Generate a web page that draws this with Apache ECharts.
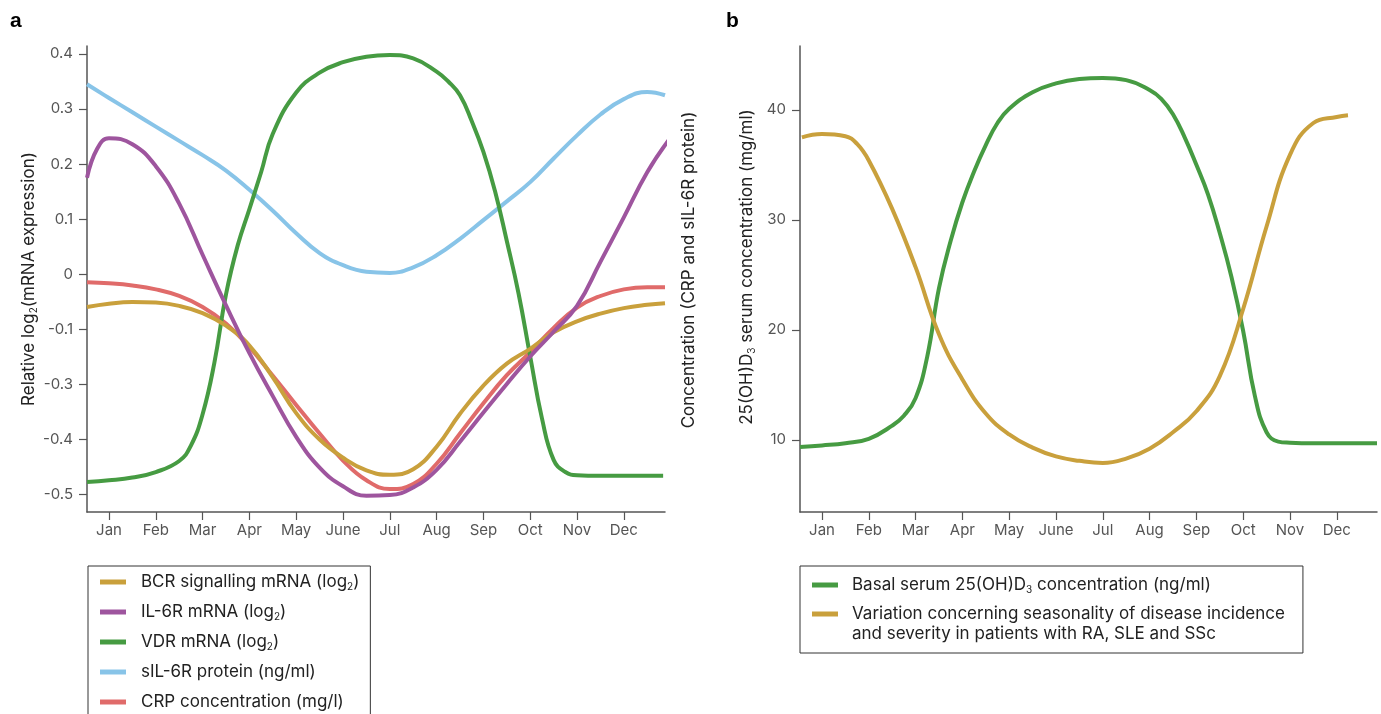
<!DOCTYPE html>
<html><head><meta charset="utf-8">
<script src="https://cdn.jsdelivr.net/npm/echarts@6/dist/echarts.min.js"></script>
<style>html,body{margin:0;padding:0;background:#fff}#c{width:1381px;height:714px}</style>
</head><body><div id="c"></div>
<script>
// ---- axis ticks / labels ----
const monthTicks = [1,2,3,4,5,6,7,8,9,10,11,12];
const monthLabels = ['Jan','Feb','Mar','Apr','May','June','Jul','Aug','Sep','Oct','Nov','Dec'];
const leftYTicks = [0.4,0.3,0.2,0.1,0,-0.1,-0.2,-0.3,-0.4];
const leftYLabels = ['0.4','0.3','0.2','0.1','0','-0.1','-0.3','-0.4','-0.5'];
const rightYTicks = [10,20,30,40];

// ---- panel a series (x in months, y in axis units) ----
const halfX = [0.53,1,1.5,2,2.5,3,3.5,4,4.5,5,5.5,6,6.5,7,7.5,8,8.5,9,9.5,10,10.5,11,11.5,12,12.5,12.88];
const bcrY  = [-0.060,-0.054,-0.051,-0.052,-0.058,-0.071,-0.094,-0.130,-0.188,-0.253,-0.301,-0.334,-0.357,-0.365,-0.355,-0.314,-0.254,-0.203,-0.163,-0.136,-0.106,-0.086,-0.072,-0.062,-0.056,-0.053];
const crpY  = [-0.015,-0.017,-0.021,-0.028,-0.040,-0.060,-0.090,-0.133,-0.185,-0.238,-0.290,-0.339,-0.375,-0.391,-0.382,-0.345,-0.290,-0.235,-0.184,-0.142,-0.098,-0.061,-0.040,-0.028,-0.024,-0.024];
const sil6rY = [0.345,0.320,0.294,0.268,0.242,0.216,0.188,0.153,0.115,0.074,0.038,0.016,0.004,0.002,0.012,0.034,0.064,0.098,0.132,0.167,0.210,0.252,0.290,0.318,0.331,0.325];

const il6rX = [0.53,0.75,1,1.5,2,2.5,3,3.5,4,4.5,5,5.5,6,6.5,7,7.5,8,8.5,9,9.5,10,10.5,11,11.5,12,12.5,12.99];
const il6rY = [0.175,0.228,0.247,0.236,0.196,0.128,0.035,-0.057,-0.144,-0.222,-0.296,-0.352,-0.386,-0.403,-0.402,-0.388,-0.356,-0.305,-0.252,-0.200,-0.150,-0.105,-0.058,0.022,0.103,0.185,0.247];

const vdrX = [0.53,1,1.5,2,2.5,2.75,3,3.25,3.5,3.75,4,4.25,4.5,5,5.5,6,6.5,7,7.5,8,8.25,8.5,8.75,9,9.25,9.5,9.75,10,10.25,10.5,10.75,11,11.5,12,12.5,12.84];
const vdrY = [-0.378,-0.375,-0.370,-0.360,-0.340,-0.312,-0.255,-0.162,-0.037,0.052,0.118,0.185,0.255,0.330,0.366,0.385,0.395,0.398,0.392,0.368,0.350,0.325,0.278,0.222,0.150,0.060,-0.035,-0.150,-0.262,-0.338,-0.360,-0.366,-0.367,-0.367,-0.367,-0.367];

// ---- panel b series ----
const basalX = [0.53,1,1.5,2,2.5,2.75,3,3.25,3.5,3.75,4,4.25,4.5,4.75,5,5.5,6,6.5,7,7.5,8,8.25,8.5,8.75,9,9.25,9.5,9.75,10,10.25,10.5,10.75,11,11.5,12,12.5,12.86];
const basalY = [9.36,9.5,9.7,10.1,11.3,12.2,13.8,17.6,23.8,28.1,31.6,34.4,36.8,38.8,40.1,41.6,42.4,42.8,42.9,42.7,41.8,41.0,39.6,37.5,35.0,32.3,28.8,24.8,19.9,14.0,10.7,9.85,9.75,9.7,9.7,9.7,9.7];

const seasonX = [0.57,1,1.5,1.75,2,2.5,3,3.5,4,4.5,5,5.5,6,6.5,7,7.5,8,8.5,9,9.5,10,10.5,11,11.5,12,12.24];
const seasonY = [37.5,37.8,37.6,36.9,35.4,31.0,25.7,19.6,15.5,12.4,10.5,9.3,8.5,8.1,7.9,8.3,9.2,10.7,12.6,15.8,21.9,29.4,35.9,38.8,39.35,39.5];

const leftNames = ['BCR signalling mRNA (log2)','IL-6R mRNA (log2)','VDR mRNA (log2)','sIL-6R protein (ng/ml)','CRP concentration (mg/l)'];
const rightNames = ['Basal serum 25(OH)D3 concentration (ng/ml)','Variation concerning seasonality of disease incidence\nand severity in patients with RA, SLE and SSc'];
const colors = {gold:'#C9A03C', purple:'#9E559E', green:'#469B42', blue:'#88C4E8', red:'#E06B6A'};

const pairs = (xs, ys) => xs.map((x, i) => [x, ys[i]]);
const FONT = 'Inter';
const subRich = { sub: { fontSize: 10, lineHeight: 10, verticalAlign: 'bottom', fontFamily: FONT } };
const fmtName = n => n.replace('log2', 'log{sub|2}').replace('D3', 'D{sub|3}');

function line(name, xs, ys, color, xi, yi) {
  return { type: 'line', name, data: pairs(xs, ys), xAxisIndex: xi, yAxisIndex: yi,
    smooth: 0.45, showSymbol: false, clip: false, color,
    lineStyle: { width: 4, color, cap: 'butt', join: 'round' }, emphasis: { disabled: true } };
}

const axisCommon = {
  axisLine: { onZero: false, lineStyle: { color: '#555', width: 1.5 } },
  axisTick: { length: 8, lineStyle: { color: '#555', width: 1.2 } },
  axisLabel: { color: '#555', fontSize: 15, fontFamily: FONT },
  splitLine: { show: false }
};

function xAx(gi) {
  return Object.assign({}, axisCommon, {
    type: 'value', gridIndex: gi, min: 0.53, max: gi === 0 ? 12.88 : 12.86,
    axisTick: Object.assign({}, axisCommon.axisTick, { customValues: monthTicks }),
    axisLabel: Object.assign({}, axisCommon.axisLabel, { customValues: monthTicks, margin: 11,
      formatter: v => monthLabels[monthTicks.indexOf(Math.round(v))] })
  });
}

const nameStyle = { fontSize: 17, color: '#222', fontFamily: FONT, lineHeight: 20, rich: subRich };

const option = {
  animation: false,
  backgroundColor: '#fff',
  grid: [
    { left: 87, top: 46, width: 578, height: 466 },
    { left: 800, top: 46, width: 577, height: 466 }
  ],
  xAxis: [xAx(0), xAx(1)],
  yAxis: [
    Object.assign({}, axisCommon, {
      type: 'value', gridIndex: 0, min: -0.4327, max: 0.4145,
      axisTick: Object.assign({}, axisCommon.axisTick, { customValues: leftYTicks }),
      axisLabel: Object.assign({}, axisCommon.axisLabel, { customValues: leftYTicks, margin: 14,
        formatter: v => leftYLabels[leftYTicks.findIndex(t => Math.abs(t - v) < 1e-6)] }),
      name: 'Relative log{sub|2}(mRNA expression)', nameLocation: 'middle', nameRotate: 90, nameGap: 45,
      nameTextStyle: nameStyle
    }),
    {
      type: 'value', gridIndex: 0, position: 'right', min: 0, max: 1,
      axisLine: { show: false }, axisTick: { show: false }, axisLabel: { show: false }, splitLine: { show: false },
      name: 'Concentration (CRP and sIL-6R protein)', nameLocation: 'middle', nameRotate: 90, nameGap: 14,
      nameTextStyle: Object.assign({}, nameStyle, { padding: [0, 0, 0, 18] })
    },
    Object.assign({}, axisCommon, {
      type: 'value', gridIndex: 1, min: 3.45, max: 45.8,
      axisTick: Object.assign({}, axisCommon.axisTick, { customValues: rightYTicks }),
      axisLabel: Object.assign({}, axisCommon.axisLabel, { customValues: rightYTicks, margin: 14 }),
      name: '25(OH)D{sub|3} serum concentration (mg/ml)', nameLocation: 'middle', nameRotate: 90, nameGap: 43,
      nameTextStyle: Object.assign({}, nameStyle, { padding: [0, 0, 0, 24] })
    })
  ],
  legend: [
    { left: 88, top: 566, height: 220, orient: 'vertical', icon: 'rect', itemWidth: 26, itemHeight: 5, itemGap: 10,
      borderColor: '#333', borderWidth: 1, padding: [6, 11, 40, 12], selectedMode: false,
      data: leftNames, formatter: fmtName,
      textStyle: { fontSize: 17, color: '#222', fontFamily: FONT, lineHeight: 20, padding: [0, 0, 0, 10], rich: subRich } },
    { left: 800, top: 566, orient: 'vertical', icon: 'rect', itemWidth: 26, itemHeight: 5, itemGap: -11,
      borderColor: '#333', borderWidth: 1, padding: [9, 18, 9, 12], selectedMode: false,
      data: [ { name: rightNames[0] },
              { name: rightNames[1], textStyle: { padding: [20, 0, 0, 9] } } ],
      formatter: fmtName,
      textStyle: { fontSize: 17, color: '#222', fontFamily: FONT, lineHeight: 20, padding: [0, 0, 0, 9], rich: subRich } }
  ],
  graphic: [
    { type: 'text', left: 10, top: 11, style: { text: 'a', fontSize: 21, fontWeight: 'bold', fill: '#000', fontFamily: 'Liberation Sans' } },
    { type: 'text', left: 726, top: 11, style: { text: 'b', fontSize: 21, fontWeight: 'bold', fill: '#000', fontFamily: 'Liberation Sans' } }
  ],
  series: [
    line(leftNames[4], halfX, crpY, colors.red, 0, 0),
    line(leftNames[3], halfX, sil6rY, colors.blue, 0, 0),
    line(leftNames[2], vdrX, vdrY, colors.green, 0, 0),
    line(leftNames[0], halfX, bcrY, colors.gold, 0, 0),
    line(leftNames[1], il6rX, il6rY, colors.purple, 0, 0),
    line(rightNames[0], basalX, basalY, colors.green, 1, 2),
    line(rightNames[1], seasonX, seasonY, colors.gold, 1, 2)
  ]
};
const chart = echarts.init(document.getElementById('c'), null, { renderer: 'canvas' });
chart.setOption(option);
</script>
</body></html>
